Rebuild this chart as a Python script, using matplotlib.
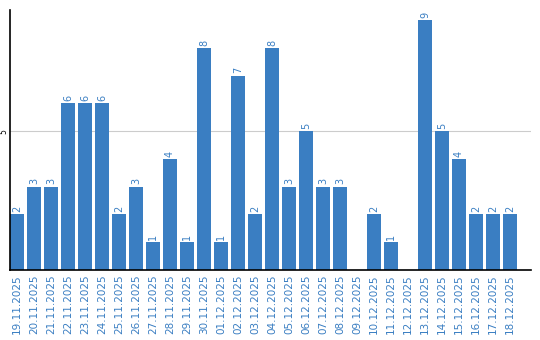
import matplotlib

matplotlib.use("Agg")
import matplotlib.pyplot as plt

dates = [
    "19.11.2025", "20.11.2025", "21.11.2025", "22.11.2025", "23.11.2025",
    "24.11.2025", "25.11.2025", "26.11.2025", "27.11.2025", "28.11.2025",
    "29.11.2025", "30.11.2025", "01.12.2025", "02.12.2025", "03.12.2025",
    "04.12.2025", "05.12.2025", "06.12.2025", "07.12.2025", "08.12.2025",
    "09.12.2025", "10.12.2025", "11.12.2025", "12.12.2025", "13.12.2025",
    "14.12.2025", "15.12.2025", "16.12.2025", "17.12.2025", "18.12.2025",
]
counts = [2, 3, 3, 6, 6, 6, 2, 3, 1, 4, 1, 8, 1, 7, 2, 8, 3, 5, 3, 3,
          0, 2, 1, 0, 9, 5, 4, 2, 2, 2]

BLUE = "#3a7ec2"

fig = plt.figure(figsize=(5.4, 3.4), dpi=100)
ax = fig.add_axes([10 / 540, 70 / 340, 521 / 540, 260 / 340])

x = list(range(len(dates)))
bars = ax.bar(x, counts, width=0.82, color=BLUE, zorder=2)
for xi, v in zip(x, counts):
    if v > 0:
        ax.text(xi, v + 0.08, str(v), rotation=90, ha="center", va="bottom",
                fontsize=7, color=BLUE)

ax.set_xlim(-0.41, 30.24)
ax.set_ylim(0, 9.36)
ax.set_xticks(x)
ax.set_xticklabels(dates, rotation=90, fontsize=7.5, color=BLUE)
ax.set_yticks([5])
ax.set_yticklabels(["5"], rotation=90, fontsize=5.5, va="center")
ax.tick_params(length=0, pad=3)
ax.tick_params(axis="y", pad=1)
ax.axhline(5, color="#cccccc", linewidth=0.8, zorder=1)

for s in ("top", "right"):
    ax.spines[s].set_visible(False)
ax.spines["left"].set_linewidth(1.2)
ax.spines["bottom"].set_linewidth(1.2)

fig.savefig("out.png", dpi=100, facecolor="white")
